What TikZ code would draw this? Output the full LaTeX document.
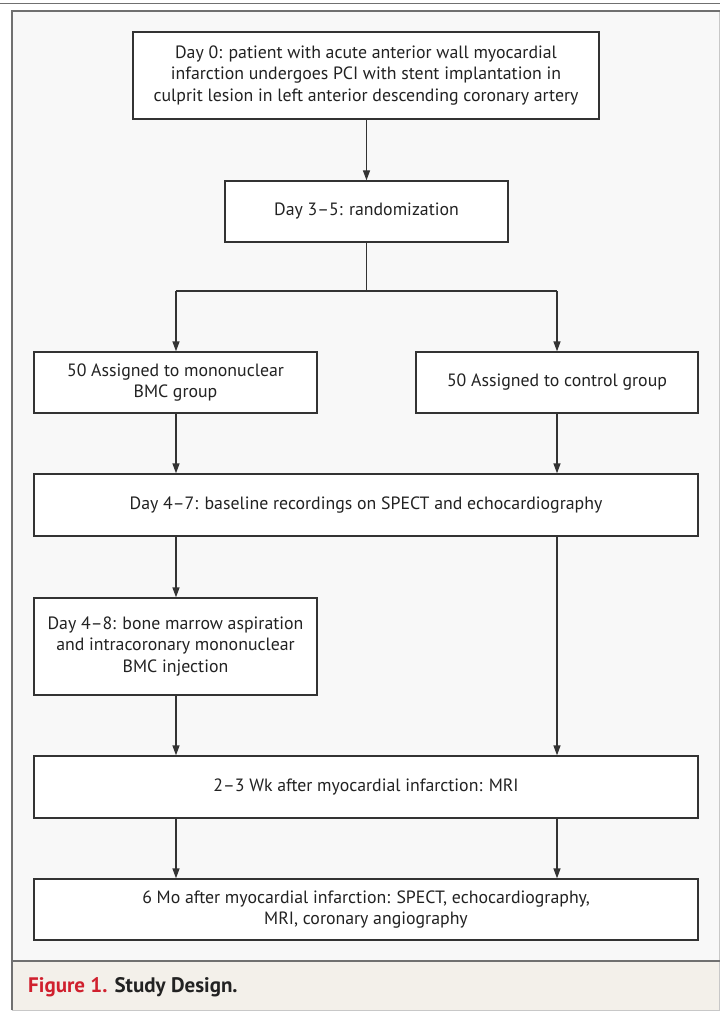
\documentclass[tikz,border=0pt]{standalone}
\usepackage{fontspec}
\setmainfont{PT Sans}
\usetikzlibrary{arrows.meta}
\definecolor{panelbg}{HTML}{F8F8F8}
\definecolor{capbg}{HTML}{F3F0EA}
\definecolor{framegray}{HTML}{707070}
\definecolor{lightframe}{HTML}{C8C8C8}
\definecolor{boxline}{HTML}{333333}
\definecolor{nejmred}{HTML}{D0202E}
\definecolor{captext}{HTML}{222222}
\begin{document}
\begin{tikzpicture}[x=1pt,y=-1pt,
  stepbox/.style={draw=boxline,line width=1.3pt,fill=white,inner sep=0pt,align=center,
    font=\fontsize{17.8}{21.5}\selectfont,text=captext},
  flow/.style={draw=boxline,line width=1.3pt,-{Triangle[length=10pt,width=7pt]}},
  plain/.style={draw=boxline,line width=1.3pt}]
\useasboundingbox (0,0) rectangle (720,1011);
\fill[white] (0,0) rectangle (720,1011);
% frame
\fill[panelbg] (12,11) rectangle (719,961);
\fill[capbg] (12,961) rectangle (719,1010);
\draw[framegray,line width=1.5pt] (0,3.5) -- (720,3.5);
\draw[lightframe,line width=1pt] (719,11) -- (719,1010) -- (12,1010);
\draw[framegray,line width=2pt] (12,1010) -- (12,11) -- (720,11);
\draw[framegray,line width=2pt] (12,961) -- (720,961);
% caption
\node[anchor=base west,inner sep=0pt,font=\fontsize{21}{24}\selectfont\bfseries] (cap) at (28,992)
  {\textcolor{nejmred}{Figure 1.} \textcolor{captext}{Study Design.}};
% boxes
\node[stepbox,minimum width=466pt,minimum height=87pt] (top) at (366,75.5)
  {Day 0: patient with acute anterior wall myocardial\\infarction undergoes PCI with stent implantation in\\culprit lesion in left anterior descending coronary artery};
\node[stepbox,minimum width=283pt,minimum height=61pt] (rand) at (366.5,211.5)
  {Day 3–5: randomization};
\node[stepbox,minimum width=283pt,minimum height=61pt] (bmc) at (175.5,382.5)
  {50 Assigned to mononuclear\\BMC group};
\node[stepbox,minimum width=282pt,minimum height=61pt] (ctrl) at (557,382.5)
  {50 Assigned to control group};
\node[stepbox,minimum width=664pt,minimum height=62pt] (base) at (366,505)
  {Day 4–7: baseline recordings on SPECT and echocardiography};
\node[stepbox,minimum width=283pt,minimum height=97pt] (inj) at (175.5,646.5)
  {Day 4–8: bone marrow aspiration\\and intracoronary mononuclear\\BMC injection};
\node[stepbox,minimum width=664pt,minimum height=62pt] (mri) at (366,787)
  {2–3 Wk after myocardial infarction: MRI};
\node[stepbox,minimum width=664pt,minimum height=61pt] (fin) at (366,909.5)
  {6 Mo after myocardial infarction: SPECT, echocardiography,\\MRI, coronary angiography};
% connectors
\coordinate (bl) at (176,291);
\coordinate (br) at (557,291);
\draw[flow] (top.south -| rand.north) -- (rand.north);
\draw[plain] (rand.south) -- (rand.south |- bl) coordinate (bm);
\draw[plain] (bl) -- (br);
\draw[flow] (bl) -- (bl |- bmc.north);
\draw[flow] (br) -- (ctrl.north);
\draw[flow] (bl |- bmc.south) -- (bl |- base.north);
\draw[flow] (ctrl.south) -- (br |- base.north);
\draw[flow] (bl |- base.south) -- (bl |- inj.north);
\draw[flow] (br |- base.south) -- (br |- mri.north);
\draw[flow] (bl |- inj.south) -- (bl |- mri.north);
\draw[flow] (bl |- mri.south) -- (bl |- fin.north);
\draw[flow] (br |- mri.south) -- (br |- fin.north);
\end{tikzpicture}
\end{document}
